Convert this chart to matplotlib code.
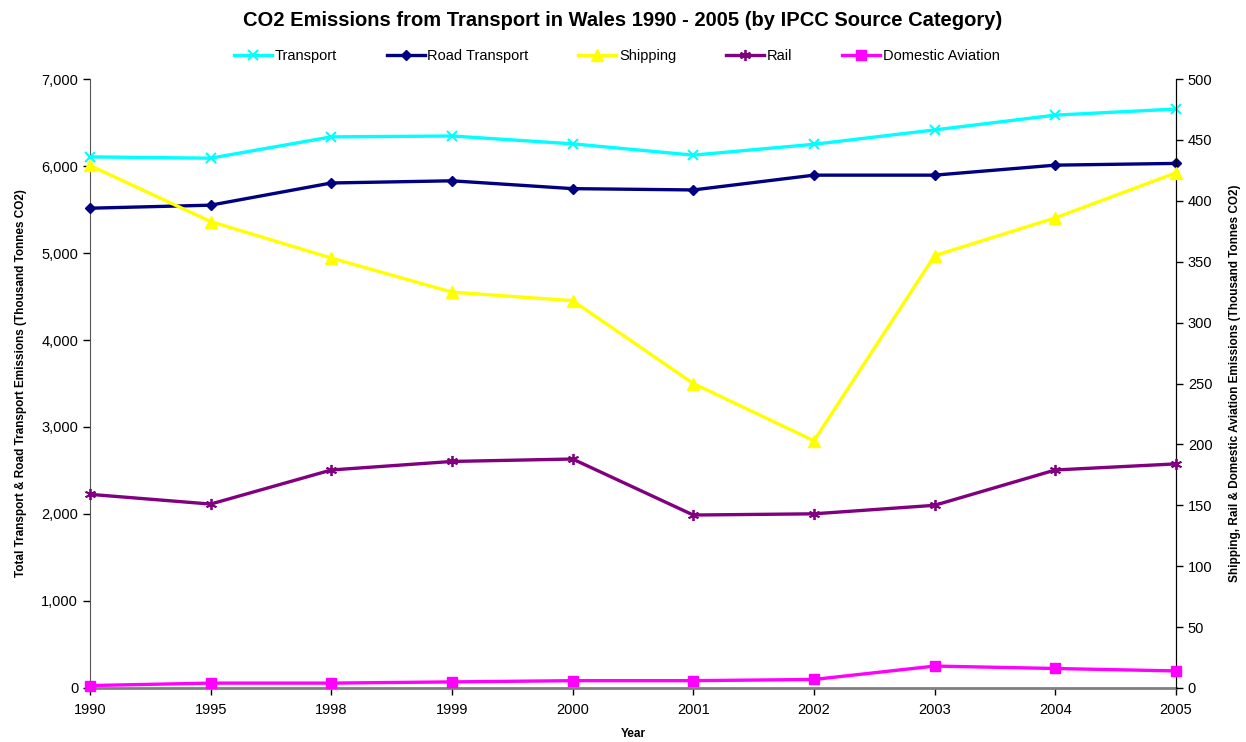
import matplotlib.pyplot as plt
from matplotlib.ticker import FuncFormatter, MultipleLocator

plt.rcParams['font.family'] = ['Liberation Sans', 'DejaVu Sans']

years = ["1990", "1995", "1998", "1999", "2000", "2001", "2002", "2003", "2004", "2005"]

# left axis (thousand tonnes CO2)
transport = [6105, 6090, 6335, 6345, 6255, 6125, 6250, 6415, 6585, 6655]
road_transport = [5515, 5550, 5805, 5830, 5740, 5725, 5895, 5895, 6010, 6030]

# right axis (thousand tonnes CO2)
shipping = [429, 383, 353, 325, 318, 250, 203, 355, 386, 423]
rail = [159, 151, 179, 186, 188, 142, 143, 150, 179, 184]
domestic_aviation = [2, 4, 4, 5, 6, 6, 7, 18, 16, 14]

fig = plt.figure(figsize=(12.46, 7.42), dpi=100)
ax = fig.add_axes([0.0722, 0.0728, 0.8716, 0.8207])
ax2 = ax.twinx()

x = range(len(years))
lw = 2.4
kw = dict(lw=lw, clip_on=False, zorder=3)
h1, = ax.plot(x, transport, color='#00FFFF', marker='x', ms=7, mew=1.5, label='Transport', **kw)
h2, = ax.plot(x, road_transport, color='#000080', marker='D', ms=5, label='Road Transport', **kw)
h3, = ax2.plot(x, shipping, color='#FFFF00', marker='^', ms=8, label='Shipping', **kw)
h4, = ax2.plot(x, rail, color='#800080', marker=(6, 2, 0), ms=8, mew=1.3, label='Rail', **kw)
h5, = ax2.plot(x, domestic_aviation, color='#FF00FF', marker='s', ms=7, label='Domestic Aviation', **kw)

ax.set_xlim(0, len(years) - 1)
ax.set_ylim(0, 7000)
ax2.set_ylim(0, 500)
ax.set_xticks(list(x))
ax.set_xticklabels(years)
ax.yaxis.set_major_locator(MultipleLocator(1000))
ax.yaxis.set_major_formatter(FuncFormatter(lambda v, p: f"{int(v):,}"))
ax2.yaxis.set_major_locator(MultipleLocator(50))

for a in (ax, ax2):
    a.tick_params(direction='out', length=5, width=1, labelsize=10.5, colors='black')
    a.spines['top'].set_visible(False)
ax.spines['left'].set_color('#555555')
ax.spines['bottom'].set_color('#808080')
ax.spines['bottom'].set_linewidth(2)
ax2.spines['right'].set_color('black')
ax2.spines['left'].set_visible(False)
ax2.spines['bottom'].set_visible(False)
ax.tick_params(axis='x', pad=6)

ax.set_xlabel('Year', fontsize=8.5, fontweight='bold', labelpad=8)
ax.set_ylabel('Total Transport & Road Transport Emissions (Thousand Tonnes CO2)',
              fontsize=8.5, fontweight='bold', labelpad=10)
ax2.set_ylabel('Shipping, Rail & Domestic Aviation Emissions (Thousand Tonnes CO2)',
               fontsize=8.5, fontweight='bold', labelpad=12)

fig.suptitle('CO2 Emissions from Transport in Wales 1990 - 2005 (by IPCC Source Category)',
             fontsize=14.5, fontweight='bold', y=0.985)
fig.legend(handles=[h1, h2, h3, h4, h5], loc='center', bbox_to_anchor=(0.495, 0.925),
           ncol=5, frameon=False, fontsize=10.5, columnspacing=3.4, handlelength=2.6,
           handletextpad=0.2)

fig.savefig('out.png', dpi=100)
